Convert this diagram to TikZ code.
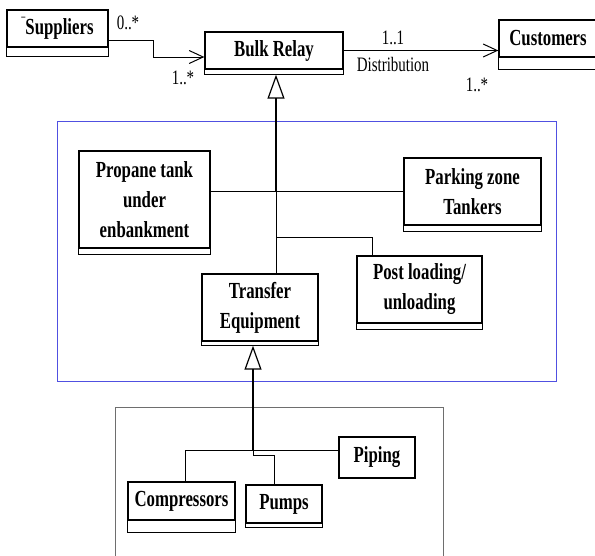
\documentclass[tikz,border=0pt]{standalone}
\usepackage{fontspec}
\setmainfont{Liberation Serif}
\newfontfamily\tnr[FakeStretch=0.73]{Liberation Serif}
\usetikzlibrary{arrows.meta}
\definecolor{frameblue}{RGB}{80,80,225}
\definecolor{framegray}{RGB}{110,110,110}
\begin{document}
\begin{tikzpicture}[x=1pt,y=-1pt,
  cls/.style={draw, line width=1.3pt, inner sep=0pt, align=center,
    font=\tnr\bfseries\fontsize{23}{30}\selectfont},
  comp/.style={draw, line width=1.3pt},
  conn/.style={line width=1pt},
  lbl/.style={inner sep=0pt, font=\tnr\fontsize{20.5}{24}\selectfont},
  assoc/.style={conn, -{Straight Barb[length=14pt, width=13pt, line width=1pt]}},
  gen/.style={line width=2.2pt, -{Triangle[open, length=24pt, width=17pt, line width=1.2pt]}}
]
\useasboundingbox (0,0) rectangle (595,555);
% frames
\draw[frameblue, line width=0.9pt] (57,121) rectangle (556,381);
\draw[framegray, line width=0.9pt] (115,407) rectangle (443,570);

% classes
\node[cls, minimum width=101pt, minimum height=37pt] (sup) at (57.5,28.5) {\raisebox{9pt}{\fontsize{11}{11}\selectfont ¯}Suppliers};
\draw[comp] (sup.south west) rectangle ([yshift=-9pt]sup.south east);
\node[cls, minimum width=138pt, minimum height=37pt] (bulk) at (274,50.5) {Bulk Relay};
\draw[comp] (bulk.south west) rectangle ([yshift=-5pt]bulk.south east);
\node[cls, minimum width=98pt, minimum height=37pt] (cust) at (548,38.5) {Customers};
\draw[comp] (cust.south west) rectangle ([yshift=-12pt]cust.south east);

\node[cls, minimum width=131pt, minimum height=97pt] (propane) at (144.5,199.5) {Propane tank\\under\\enbankment};
\draw[comp] (propane.south west) rectangle ([yshift=-6pt]propane.south east);
\node[cls, minimum width=137pt, minimum height=67pt] (parking) at (472.5,191.5) {Parking zone\\Tankers};
\draw[comp] (parking.south west) rectangle ([yshift=-6pt]parking.south east);
\node[cls, minimum width=125pt, minimum height=67pt] (post) at (419.5,289.5) {Post loading/\\unloading};
\draw[comp] (post.south west) rectangle ([yshift=-6pt]post.south east);
\node[cls, minimum width=116pt, minimum height=67pt] (transfer) at (260,307.5) {Transfer\\Equipment};
\draw[comp] (transfer.south west) rectangle ([yshift=-4pt]transfer.south east);

\node[cls, minimum width=107pt, minimum height=38pt] (compressors) at (181.5,501) {Compressors};
\draw[comp] (compressors.south west) rectangle ([yshift=-12pt]compressors.south east);
\node[cls, minimum width=76pt, minimum height=38pt] (pumps) at (284,504) {Pumps};
\draw[comp] (pumps.south west) rectangle ([yshift=-4pt]pumps.south east);
\node[cls, minimum width=76pt, minimum height=41pt] (piping) at (377,457.5) {Piping};

% associations
\draw[assoc] ([yshift=-11.5pt]sup.east) -- ++(45,0) |- ([yshift=-6.5pt]bulk.west);
\draw[assoc] (bulk.east) -- (bulk.east -| cust.west);
\node[lbl] (l0) at (128,23) {0..*};
\node[lbl] (l1) at (183,78) {1..*};
\node[lbl] (l2) at (393,38) {1..1};
\node[lbl] (l3) at (393,64) {Distribution};
\node[lbl] (l4) at (477,85) {1..*};

% generalization to Bulk Relay
\coordinate (bulkbot) at ([xshift=2pt,yshift=-5pt]bulk.south);
\coordinate (j1) at (276,191);
\coordinate (j2) at (276,237);
\draw[gen] (j1) -- (bulkbot);
\draw[conn] (j1 -| propane.east) -- (j1);
\draw[conn] (parking.west -| j1) -- (parking.west);
\draw[conn] (j1) -- (j1 |- transfer.north);
\draw[conn] (j2) -| ([xshift=-47.5pt]post.north);

% generalization to Transfer Equipment
\coordinate (tbot) at ([xshift=-7pt,yshift=-4pt]transfer.south);
\coordinate (j3) at (253,450);
\draw[gen] (j3) -- (tbot);
\draw[conn] (j3) -| ([xshift=3.5pt]compressors.north);
\draw[conn] (j3) -- ++(0,5) -| ([xshift=-10pt]pumps.north);
\draw[conn] (j3) -- (j3 -| piping.west);
\end{tikzpicture}
\end{document}
